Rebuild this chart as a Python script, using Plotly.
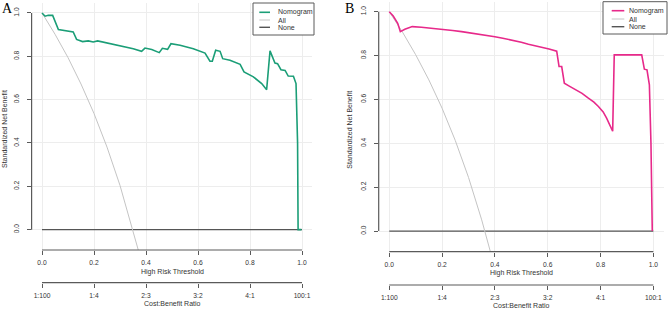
import plotly.graph_objects as go

# ---------------- data ----------------
tick_vals = [0.0, 0.2, 0.4, 0.6, 0.8, 1.0]
tick_text = ["0.0", "0.2", "0.4", "0.6", "0.8", "1.0"]
cb_text = ["1:100", "1:4", "2:3", "3:2", "4:1", "100:1"]
legend_names = ["Nomogram", "All", "None"]

# Panel A - nomogram
thr_A = [0, 0.012, 0.024, 0.041, 0.063, 0.082, 0.101, 0.12, 0.133, 0.156, 0.178, 0.197,
         0.214, 0.249, 0.3, 0.351, 0.383, 0.396, 0.422, 0.451, 0.463, 0.483, 0.496, 0.531,
         0.582, 0.627, 0.646, 0.655, 0.668, 0.685, 0.695, 0.723, 0.762, 0.777, 0.813, 0.845,
         0.864, 0.877, 0.896, 0.906, 0.919, 0.935, 0.947, 0.967, 0.977, 0.983, 0.985, 0.998]
nb_A = [1.0, 0.985, 0.989, 0.989, 0.923, 0.92, 0.917, 0.912, 0.878, 0.868, 0.871, 0.866,
        0.871, 0.862, 0.849, 0.835, 0.823, 0.838, 0.831, 0.817, 0.837, 0.832, 0.858, 0.851,
        0.835, 0.815, 0.777, 0.777, 0.828, 0.823, 0.789, 0.782, 0.763, 0.728, 0.705, 0.674,
        0.646, 0.825, 0.769, 0.766, 0.738, 0.735, 0.709, 0.708, 0.674, 0.4, 0.0, 0.0]
thr_all_A = [0, 0.05, 0.1, 0.15, 0.2, 0.25, 0.3, 0.35, 0.375]
nb_all_A = [1.0, 0.902, 0.794, 0.672, 0.536, 0.381, 0.204, 0.0, -0.114]

# Panel B - nomogram
thr_B = [0.0, 0.015, 0.032, 0.042, 0.059, 0.087, 0.122, 0.16, 0.198, 0.24, 0.274, 0.31,
         0.337, 0.37, 0.4, 0.43, 0.463, 0.5, 0.527, 0.555, 0.577, 0.605, 0.634, 0.643,
         0.653, 0.663, 0.68, 0.703, 0.73, 0.754, 0.775, 0.792, 0.81, 0.823, 0.835, 0.846,
         0.852, 0.88, 0.92, 0.956, 0.966, 0.976, 0.985, 0.991, 0.996]
nb_B = [1.0, 0.98, 0.947, 0.909, 0.92, 0.932, 0.929, 0.925, 0.92, 0.914, 0.909, 0.903,
        0.898, 0.892, 0.886, 0.879, 0.871, 0.861, 0.852, 0.845, 0.838, 0.83, 0.82, 0.75,
        0.75, 0.674, 0.662, 0.647, 0.628, 0.606, 0.588, 0.568, 0.543, 0.515, 0.487, 0.455,
        0.803, 0.803, 0.803, 0.803, 0.738, 0.735, 0.667, 0.40, 0.0]
thr_all_B = [0, 0.05, 0.1, 0.15, 0.2, 0.25, 0.3, 0.35, 0.385]
nb_all_B = [1.0, 0.907, 0.804, 0.689, 0.56, 0.413, 0.245, 0.051, -0.103]

none_x = [0.0, 1.0]
none_y = [0.0, 0.0]

# ---------------- styling ----------------
W, H = 669, 309
TEAL = "#1B9E77"
PINK = "#E7298A"
ALL_C = "#C4C4C4"
NONE_C = "#555555"
AX_C = "#5A5A5A"
GRID_C = "#EDEDED"
FONT = "Liberation Sans"
TXT_C = "#333333"


def px(x):
    return x / W


def py(y):
    return 1 - y / H


panels = [
    dict(key="", data=(thr_A, nb_A, thr_all_A, nb_all_A), color=TEAL,
         xl=31.6, xr=312.4, yt=3.0, yb=250.0, cb_y=282.7, lab1_y=271.7, lab2_y=303.0,
         ytitle_x=4.5, letter="A", letter_xy=(7, 8),
         leg_box=(253, 3, 314, 35), leg_line=(259.3, 270), leg_text=276, leg_rows=(12.3, 20, 27.3)),
    dict(key="2", data=(thr_B, nb_B, thr_all_B, nb_all_B), color=PINK,
         xl=378.7, xr=663.9, yt=1.6, yb=251.7, cb_y=285.0, lab1_y=273.3, lab2_y=305.0,
         ytitle_x=350, letter="B", letter_xy=(349.5, 8),
         leg_box=(603, 1.7, 667, 34), leg_line=(611.7, 624.3), leg_text=627, leg_rows=(10.7, 19, 26.7)),
]

fig = go.Figure()
layout = dict(width=W, height=H, margin=dict(l=0, r=0, t=0, b=0, autoexpand=False),
              paper_bgcolor="white", plot_bgcolor="white", showlegend=False)
shapes = []
annotations = []


def tf():
    return dict(family=FONT, size=6.7, color=TXT_C)


for i, p in enumerate(panels):
    k = p["key"]
    xa = "x" + k
    ya = "y" + k
    cbax = "x" + str(3 + i)
    thr, nb, thr_all, nb_all = p["data"]

    fig.add_trace(go.Scatter(x=none_x, y=none_y, mode="lines", xaxis=xa, yaxis=ya,
                             line=dict(color=NONE_C, width=1.4), name="None", hoverinfo="skip"))
    fig.add_trace(go.Scatter(x=thr_all, y=nb_all, mode="lines", xaxis=xa, yaxis=ya,
                             line=dict(color=ALL_C, width=1.0), name="All", hoverinfo="skip"))
    fig.add_trace(go.Scatter(x=thr, y=nb, mode="lines", xaxis=xa, yaxis=ya,
                             line=dict(color=p["color"], width=1.6), name="Nomogram"))
    # carrier trace for the cost:benefit axis
    fig.add_trace(go.Scatter(x=tick_vals, y=[None] * len(tick_vals), mode="lines",
                             xaxis=cbax, yaxis=ya, hoverinfo="skip", showlegend=False,
                             line=dict(color="rgba(0,0,0,0)")))

    xdom = [px(p["xl"]), px(p["xr"])]
    ydom = [py(p["yb"]), py(p["yt"])]
    common = dict(ticks="outside", ticklen=4, tickwidth=1, tickcolor=AX_C, showline=False,
                  zeroline=False, tickfont=tf(), color=TXT_C, automargin=False,
                  fixedrange=True)
    layout["xaxis" + k] = dict(domain=xdom, anchor=ya, range=[-0.04, 1.04],
                               tickvals=tick_vals, ticktext=tick_text,
                               showgrid=True, gridcolor=GRID_C, gridwidth=1,
                               ticklabelstandoff=2, **common)
    layout["yaxis" + k] = dict(domain=ydom, anchor=xa, range=[-0.094, 1.046],
                               tickvals=tick_vals, ticktext=tick_text,
                               showgrid=True, gridcolor=GRID_C, gridwidth=1,
                               tickangle=-90, ticklabelstandoff=5, **common)
    layout["xaxis" + str(3 + i)] = dict(overlaying=xa, anchor="free", position=py(p["cb_y"]),
                                        range=[-0.04, 1.04], tickvals=tick_vals, ticktext=cb_text,
                                        showgrid=False, ticklabelstandoff=2, **common)

    # R-style axis lines spanning first to last tick
    shapes.append(dict(type="line", xref="paper", yref=ya, x0=px(p["xl"]), x1=px(p["xl"]),
                       y0=0, y1=1, line=dict(color=AX_C, width=1.2)))
    shapes.append(dict(type="line", xref=xa, yref="paper", x0=0, x1=1,
                       y0=py(p["yb"]), y1=py(p["yb"]), line=dict(color=AX_C, width=1.2)))
    shapes.append(dict(type="line", xref=xa, yref="paper", x0=0, x1=1,
                       y0=py(p["cb_y"]), y1=py(p["cb_y"]), line=dict(color=AX_C, width=1.2)))

    # axis titles
    annotations.append(dict(text="High Risk Threshold", xref=xa, yref="paper", x=0.5,
                            y=py(p["lab1_y"]), showarrow=False, yanchor="middle",
                            font=dict(family=FONT, size=7, color=TXT_C)))
    annotations.append(dict(text="Cost:Benefit Ratio", xref=xa, yref="paper", x=0.5,
                            y=py(p["lab2_y"]), showarrow=False, yanchor="middle",
                            font=dict(family=FONT, size=7, color=TXT_C)))
    annotations.append(dict(text="Standardized Net Benefit", xref="paper", yref="paper",
                            x=px(p["ytitle_x"]), y=py((p["yt"] + p["yb"]) / 2 + 3),
                            textangle=-90, showarrow=False, xanchor="center", yanchor="middle",
                            font=dict(family=FONT, size=7, color=TXT_C)))
    # panel letter
    lx, ly = p["letter_xy"]
    annotations.append(dict(text=p["letter"], xref="paper", yref="paper", x=px(lx), y=py(ly),
                            showarrow=False, xanchor="center", yanchor="middle",
                            font=dict(family="Liberation Serif", size=14, color="black")))

    # manual legend
    bx0, by0, bx1, by1 = p["leg_box"]
    shapes.append(dict(type="rect", xref="paper", yref="paper", x0=px(bx0), x1=px(bx1),
                       y0=py(by1), y1=py(by0), line=dict(color=AX_C, width=1),
                       fillcolor="white", layer="above"))
    leg_colors = [p["color"], ALL_C, NONE_C]
    leg_widths = [1.6, 1.0, 1.4]
    for name, c, w, ry in zip(legend_names, leg_colors, leg_widths, p["leg_rows"]):
        shapes.append(dict(type="line", xref="paper", yref="paper",
                           x0=px(p["leg_line"][0]), x1=px(p["leg_line"][1]),
                           y0=py(ry), y1=py(ry), line=dict(color=c, width=w), layer="above"))
        annotations.append(dict(text=name, xref="paper", yref="paper", x=px(p["leg_text"]),
                                y=py(ry), showarrow=False, xanchor="left", yanchor="middle",
                                font=dict(family=FONT, size=7, color=TXT_C)))

layout["shapes"] = shapes
layout["annotations"] = annotations
fig.update_layout(**layout)
fig.write_html("out.html",
               config={"displayModeBar": False},
               post_script="document.body.style.margin='0px';document.body.style.padding='0px';"
                           "document.body.style.overflow='hidden';")
